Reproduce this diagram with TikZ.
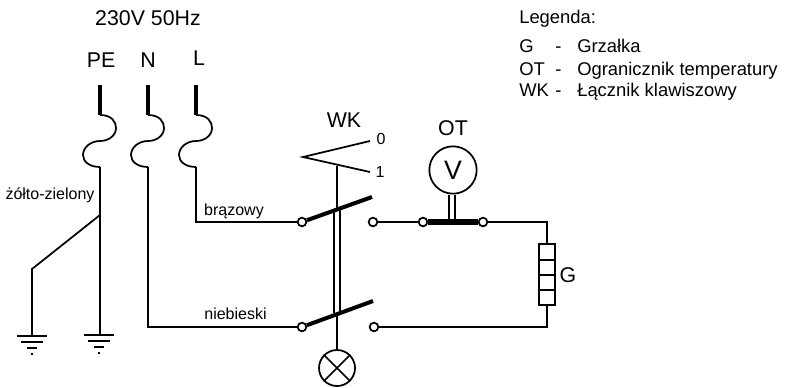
\documentclass[tikz,border=0pt]{standalone}
\usepackage{fontspec}
\setmainfont{Liberation Sans}
\usetikzlibrary{positioning}
\tikzset{
  wire/.style={line width=1.3pt},
  thick wire/.style={line width=3pt},
  contact/.style={draw,circle,fill=white,line width=1.3pt,inner sep=0pt,minimum size=6.5pt},
  label big/.style={font=\fontsize{16}{18}\selectfont,inner sep=0pt},
  label small/.style={font=\fontsize{12}{14}\selectfont,inner sep=0pt},
  legend row/.style={font=\fontsize{13.8}{16}\selectfont,inner sep=0pt,anchor=base west},
  fuse/.pic={\draw[wire] (0,0) .. controls (12,0) and (16,7) .. (16,13) .. controls (16,21) and (8,26) .. (0,26) .. controls (-10,26) and (-17,33) .. (-17,40) .. controls (-17,47) and (-10,52) .. (0,52);}
}
\begin{document}
\begin{tikzpicture}[x=0.75pt,y=-0.75pt]
  \useasboundingbox (0,0) rectangle (785,387);

  \node[label big] (supply) at (148,18) {230V 50Hz};
  \node[label big] (pe) at (101,60) {PE};
  \node[label big] (n) at (148,60) {N};
  \node[label big] (l) at (199,58) {L};

  % legend
  \node[legend row] (legend) at (519,23) {Legenda:};
  \node[legend row] (g1) at (519,52.5) {G};
  \node[legend row] (g2) at (555,52.5) {-};
  \node[legend row] (g3) at (577,52.5) {Grzałka};
  \node[legend row] (ot1) at (519,75.5) {OT};
  \node[legend row] (ot2) at (555,75.5) {-};
  \node[legend row] (ot3) at (577,75.5) {Ogranicznik temperatury};
  \node[legend row] (wk1) at (519,96.5) {WK};
  \node[legend row] (wk2) at (555,96.5) {-};
  \node[legend row] (wk3) at (577,96.5) {Łącznik klawiszowy};

  % supply lines
  \coordinate (peA) at (100,85);
  \coordinate (peB) at (100,115);
  \coordinate (peC) at (100,167);
  \coordinate (nA) at (148,85);
  \coordinate (nB) at (148,115);
  \coordinate (nC) at (148,167);
  \coordinate (lA) at (196,85);
  \coordinate (lB) at (196,115);
  \coordinate (lC) at (196,167);
  \draw[thick wire] (peA) -- (peB);
  \draw[thick wire] (nA) -- (nB);
  \draw[thick wire] (lA) -- (lB);
  \pic at (peB) {fuse};
  \pic at (nB) {fuse};
  \pic at (lB) {fuse};

  % earth
  \coordinate (peD) at (100,215);
  \coordinate (earthA) at (32,269);
  \coordinate (earthB) at (32,336);
  \coordinate (earthC) at (100,336);
  \draw[wire] (peC) -- (earthC);
  \draw[wire] (peD) -- (earthA) -- (earthB);
  \node[label small] (yg) at (50,195) {żółto-zielony};
  \foreach \x/\y in {32/336,99/335}{
    \draw[wire] (\x-15,\y) -- (\x+15,\y);
    \draw[wire] (\x-11,\y+6) -- (\x+11,\y+6);
    \draw[wire] (\x-5,\y+12) -- (\x+5,\y+12);
    \draw[wire] (\x-1,\y+18) -- (\x+1,\y+18);
  }

  % switch contacts
  \node[contact] (c1) at (302,222) {};
  \node[contact] (c2) at (373,222) {};
  \node[contact] (c3) at (302,327) {};
  \node[contact] (c4) at (374,327) {};
  \node[contact] (c5) at (423,222) {};
  \node[contact] (c6) at (483,222) {};
  \coordinate (sw1) at (372,197);
  \coordinate (sw2) at (373,301);
  \draw[thick wire] (c1) -- (sw1);
  \draw[thick wire] (c3) -- (sw2);
  \draw[line width=3.8pt] (c5) -- (c6);

  \draw[wire] (lC) |- (c1);
  \draw[wire] (nC) |- (c3);
  \node[label small] (brown) at (234,211) {brązowy};
  \node[label small] (blue) at (235.5,314) {niebieski};
  \draw[wire] (c2) -- (c5);

  % lever
  \node[label big] (wk) at (344,120) {WK};
  \coordinate (lever) at (303,157);
  \coordinate (pos0) at (370,141);
  \coordinate (pos1) at (370,172);
  \coordinate (shaftA) at (337,166);
  \coordinate (shaftB) at (337,209);
  \coordinate (shaftC) at (337,313);
  \draw[wire] (pos0) -- (lever) -- (pos1);
  \node[label small] (zero) at (381,139) {0};
  \node[label small] (one) at (380,172) {1};
  \draw[wire] (shaftA) -- (shaftB);
  \draw[wire] ([xshift=-2.5pt]shaftB) -- ([xshift=-2.5pt]shaftC);
  \draw[wire] ([xshift=2.5pt]shaftB) -- ([xshift=2.5pt]shaftC);

  % lamp
  \node[draw,circle,wire,inner sep=0pt,minimum size=27pt] (lamp) at (337,368) {};
  \draw[wire] (shaftC) -- (lamp);
  \draw[wire] (lamp.45) -- (lamp.225);
  \draw[wire] (lamp.135) -- (lamp.315);

  % limiter
  \node[label big] (ot) at (453,128) {OT};
  \node[draw,circle,wire,inner sep=0pt,minimum size=35.5pt,font=\fontsize{20}{22}\selectfont] (meter) at (453,170) {\raisebox{-2pt}{V}};
  \coordinate (limit) at (453,222);
  \draw[wire] ([xshift=-3pt]meter.south) -- ([xshift=-3pt]limit);
  \draw[wire] ([xshift=1.5pt]meter.south) -- ([xshift=1.5pt]limit);

  % heater
  \node[draw,wire,inner sep=0pt,minimum width=12pt,minimum height=46pt] (heater) at (547,274.5) {};
  \draw[wire] (539,260) -- (555,260);
  \draw[wire] (539,275) -- (555,275);
  \draw[wire] (539,290) -- (555,290);
  \node[label big] (g) at (568,275) {G};
  \draw[wire] (c6) -| (heater.north);
  \draw[wire] (c4) -| (heater.south);
\end{tikzpicture}
\end{document}
